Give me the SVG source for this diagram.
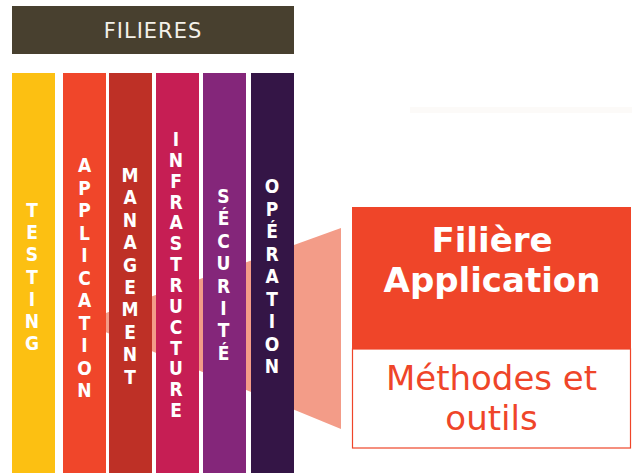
<svg xmlns="http://www.w3.org/2000/svg" width="637" height="473" viewBox="0 0 637 473">
<style>
.col{font-family:"DejaVu Sans Condensed","DejaVu Sans",Verdana,sans-serif;font-weight:bold;font-size:19px;fill:#ffffff;text-anchor:middle}
.hdr{font-family:"DejaVu Sans",Verdana,sans-serif;font-size:21px;fill:#f4f1ea;text-anchor:middle;letter-spacing:1px}
.title{font-family:"DejaVu Sans",Verdana,sans-serif;font-weight:bold;font-size:34px;fill:#ffffff;text-anchor:middle}
.sub{font-family:"DejaVu Sans",Verdana,sans-serif;font-size:34px;fill:#ef4529;text-anchor:middle}
</style>
<rect width="637" height="473" fill="#ffffff"/>
<rect x="410" y="107" width="222" height="6" fill="#fcfaf8"/>
<g id="connectors">
<polygon points="81,322 341,228 341,429" fill="#f39c88"/>
</g>
<g id="header">
<rect x="12" y="6" width="282" height="48" fill="#48402f"/>
<text class="hdr" x="153" y="38">FILIERES</text>
</g>
<g id="testing">
<rect x="12" y="73" width="43" height="400" fill="#fcc012"/>
<text class="col"><tspan x="32" y="217">T</tspan><tspan x="32" dy="22.2">E</tspan><tspan x="32" dy="22.2">S</tspan><tspan x="32" dy="22.2">T</tspan><tspan x="32" dy="22.2">I</tspan><tspan x="32" dy="22.2">N</tspan><tspan x="32" dy="22.2">G</tspan></text>
</g>
<g id="application">
<rect x="63" y="73" width="43" height="400" fill="#f0462a"/>
<text class="col"><tspan x="84.5" y="172">A</tspan><tspan x="84.5" dy="22.5">P</tspan><tspan x="84.5" dy="22.5">P</tspan><tspan x="84.5" dy="22.5">L</tspan><tspan x="84.5" dy="22.5">I</tspan><tspan x="84.5" dy="22.5">C</tspan><tspan x="84.5" dy="22.5">A</tspan><tspan x="84.5" dy="22.5">T</tspan><tspan x="84.5" dy="22.5">I</tspan><tspan x="84.5" dy="22.5">O</tspan><tspan x="84.5" dy="22.5">N</tspan></text>
</g>
<g id="management">
<rect x="109" y="73" width="43" height="400" fill="#be3026"/>
<text class="col"><tspan x="130" y="182">M</tspan><tspan x="130" dy="22.4">A</tspan><tspan x="130" dy="22.4">N</tspan><tspan x="130" dy="22.4">A</tspan><tspan x="130" dy="22.4">G</tspan><tspan x="130" dy="22.4">E</tspan><tspan x="130" dy="22.4">M</tspan><tspan x="130" dy="22.4">E</tspan><tspan x="130" dy="22.4">N</tspan><tspan x="130" dy="22.4">T</tspan></text>
</g>
<g id="infrastructure">
<rect x="156" y="73" width="43" height="400" fill="#c61e54"/>
<text class="col"><tspan x="176" y="146">I</tspan><tspan x="176" dy="20.85">N</tspan><tspan x="176" dy="20.85">F</tspan><tspan x="176" dy="20.85">R</tspan><tspan x="176" dy="20.85">A</tspan><tspan x="176" dy="20.85">S</tspan><tspan x="176" dy="20.85">T</tspan><tspan x="176" dy="20.85">R</tspan><tspan x="176" dy="20.85">U</tspan><tspan x="176" dy="20.85">C</tspan><tspan x="176" dy="20.85">T</tspan><tspan x="176" dy="20.85">U</tspan><tspan x="176" dy="20.85">R</tspan><tspan x="176" dy="20.85">E</tspan></text>
</g>
<g id="securite">
<rect x="203" y="73" width="43" height="400" fill="#84267a"/>
<text class="col"><tspan x="223.5" y="203">S</tspan><tspan x="223.5" dy="22.4">É</tspan><tspan x="223.5" dy="22.4">C</tspan><tspan x="223.5" dy="22.4">U</tspan><tspan x="223.5" dy="22.4">R</tspan><tspan x="223.5" dy="22.4">I</tspan><tspan x="223.5" dy="22.4">T</tspan><tspan x="223.5" dy="22.4">É</tspan></text>
</g>
<g id="operation">
<rect x="251" y="73" width="43" height="400" fill="#341546"/>
<text class="col"><tspan x="272" y="193">O</tspan><tspan x="272" dy="22.5">P</tspan><tspan x="272" dy="22.5">É</tspan><tspan x="272" dy="22.5">R</tspan><tspan x="272" dy="22.5">A</tspan><tspan x="272" dy="22.5">T</tspan><tspan x="272" dy="22.5">I</tspan><tspan x="272" dy="22.5">O</tspan><tspan x="272" dy="22.5">N</tspan></text>
</g>
<g id="filiere-application">
<rect x="352" y="207" width="279" height="142" fill="#ef4529"/>
<text class="title" x="492" y="252">Filière</text>
<text class="title" x="492" y="292">Application</text>
</g>
<g id="methodes-outils">
<rect x="352.5" y="349" width="278" height="99" fill="#ffffff" stroke="#ef4529" stroke-width="1.2"/>
<text class="sub" x="491.5" y="390">Méthodes et</text>
<text class="sub" x="491.5" y="430">outils</text>
</g>
</svg>
